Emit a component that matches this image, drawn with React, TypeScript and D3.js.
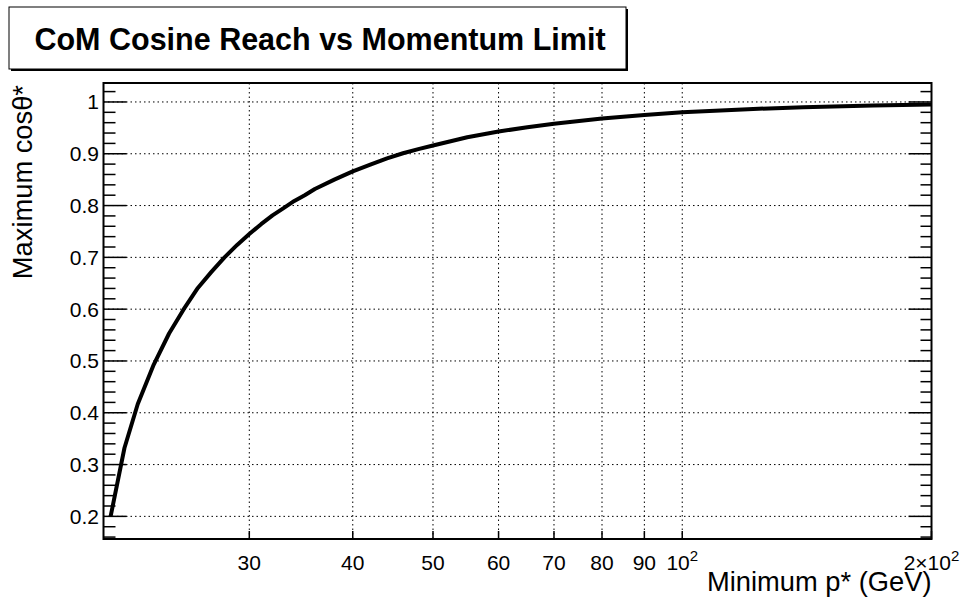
import React from "react";
import * as d3 from "d3";

// Minimum p* (GeV) and the corresponding maximum cos(theta*) reach
const momentum = [20.4, 21.2, 22.0, 23, 24, 25, 26, 27, 28, 29, 30, 31, 32, 33, 34, 35, 36, 38, 40, 42, 44, 46, 48, 50, 55, 60, 65, 70, 80, 90, 100, 120, 140, 170, 200];
const cosReach = [0.2, 0.332, 0.417, 0.493, 0.553, 0.6, 0.641, 0.672, 0.7, 0.724, 0.745, 0.764, 0.781, 0.795, 0.809, 0.82, 0.832, 0.85, 0.866, 0.879, 0.891, 0.901, 0.909, 0.916, 0.932, 0.943, 0.951, 0.958, 0.968, 0.975, 0.98, 0.986, 0.99, 0.993, 0.995];

const xTickValues = [30, 40, 50, 60, 70, 80, 90, 100, 200];
const xGridValues = [30, 40, 50, 60, 70, 80, 90, 100];
const yMajorTicks = [0.2, 0.3, 0.4, 0.5, 0.6, 0.7, 0.8, 0.9, 1.0];

const titleText = "CoM Cosine Reach vs Momentum Limit";
const xTitle = "Minimum p* (GeV)";
const yTitle = "Maximum cos\u03b8*";

const W = 962;
const H = 601;
const frame = { left: 103.5, right: 931.5, top: 83, bottom: 539 };

const LABEL_SIZE = 21;
const SUP_SIZE = 15;

export default function App() {
  const x = d3.scaleLog().domain([20, 200]).range([frame.left, frame.right]);
  const y = d3.scaleLinear().domain([0.1563, 1.0366]).range([frame.bottom, frame.top]);

  const pts: [number, number][] = momentum.map((p, i) => [p, cosReach[i]]);
  const line = d3
    .line<[number, number]>()
    .x((d) => x(d[0]))
    .y((d) => y(d[1]));

  const yMinor = d3.range(0.16, 1.035, 0.02).filter((v) => Math.abs(v * 10 - Math.round(v * 10)) > 1e-6);

  const font = "Liberation Sans, Arial, Helvetica, sans-serif";

  // approximate Arial advance widths (em) for the digits and the times sign
  const em = (s: string) =>
    s.split("").reduce((a, c) => a + (c === "\u00d7" ? 0.584 : 0.556), 0);

  const renderXLabel = (v: number) => {
    const cx = x(v);
    if (v < 100) {
      return (
        <text key={"lx" + v} x={cx} y={570} textAnchor="middle" fontSize={LABEL_SIZE}>
          {String(v)}
        </text>
      );
    }
    const base = v === 100 ? "10" : "2\u00d710";
    const baseW = em(base) * LABEL_SIZE;
    const supW = 0.556 * SUP_SIZE;
    const x0 = cx - (baseW + supW) / 2;
    return (
      <g key={"lx" + v}>
        <text x={x0} y={570} fontSize={LABEL_SIZE}>
          {base}
        </text>
        <text x={x0 + baseW} y={561} fontSize={SUP_SIZE}>
          2
        </text>
      </g>
    );
  };

  return (
    <svg
      width={W}
      height={H}
      style={{ position: "absolute", left: 0, top: 0, background: "#fff" }}
      fontFamily={font}
    >
      <rect x={0} y={0} width={W} height={H} fill="#fff" />

      {/* title box with shadow */}
      <rect x={11} y={9} width={617} height={62} fill="#000" />
      <rect x={9} y={7} width={617} height={62} fill="#fff" stroke="#000" strokeWidth={1} />
      <text x={320} y={49.5} textAnchor="middle" fontSize={30.5} fontWeight="bold" fill="#000">
        {titleText}
      </text>

      {/* grid */}
      <g stroke="#000" strokeWidth={1} strokeDasharray="1.5,3">
        {xGridValues.map((v) => (
          <line key={"gx" + v} x1={x(v)} x2={x(v)} y1={frame.top} y2={frame.bottom} />
        ))}
        {yMajorTicks.map((v) => (
          <line key={"gy" + v} x1={frame.left} x2={frame.right} y1={y(v)} y2={y(v)} />
        ))}
      </g>

      {/* ticks: y on both sides, x on the bottom */}
      <g stroke="#000" strokeWidth={1.5}>
        {yMajorTicks.map((v) => (
          <g key={"ty" + v}>
            <line x1={frame.left} x2={frame.left + 23} y1={y(v)} y2={y(v)} />
            <line x1={frame.right} x2={frame.right - 23} y1={y(v)} y2={y(v)} />
          </g>
        ))}
        {yMinor.map((v) => (
          <g key={"tm" + v}>
            <line x1={frame.left} x2={frame.left + 12} y1={y(v)} y2={y(v)} />
            <line x1={frame.right} x2={frame.right - 11} y1={y(v)} y2={y(v)} />
          </g>
        ))}
        {xTickValues.map((v) => (
          <line key={"tx" + v} x1={x(v)} x2={x(v)} y1={frame.bottom} y2={frame.bottom - 8} />
        ))}
      </g>

      {/* curve */}
      <path d={line(pts) || ""} fill="none" stroke="#000" strokeWidth={4} strokeLinejoin="round" />

      {/* frame */}
      <rect
        x={frame.left}
        y={frame.top}
        width={frame.right - frame.left}
        height={frame.bottom - frame.top}
        fill="none"
        stroke="#000"
        strokeWidth={2}
      />

      {/* y tick labels */}
      <g fontSize={LABEL_SIZE} textAnchor="end" fill="#000">
        {yMajorTicks.map((v) => (
          <text key={"ly" + v} x={99} y={y(v) + 7.5}>
            {v === 1 ? "1" : v.toFixed(1)}
          </text>
        ))}
      </g>

      {/* x tick labels */}
      <g fill="#000">{xTickValues.map(renderXLabel)}</g>

      {/* axis titles */}
      <text x={frame.right} y={591} textAnchor="end" fontSize={27.3} fill="#000">
        {xTitle}
      </text>
      <text
        transform={`translate(32, ${frame.top + 2}) rotate(-90)`}
        textAnchor="end"
        fontSize={27.3}
        fill="#000"
      >
        {yTitle}
      </text>
    </svg>
  );
}
